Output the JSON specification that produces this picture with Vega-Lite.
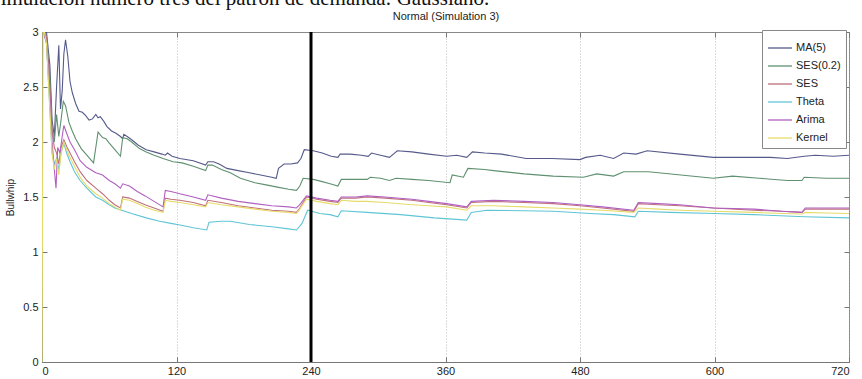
{
  "$schema": "https://vega.github.io/schema/vega-lite/v6.json",
  "width": 807,
  "height": 330,
  "autosize": {"type": "none"},
  "padding": {"left": 42, "top": 32, "right": 13, "bottom": 17},
  "background": "white",
  "title": {
    "text": "Simulación número tres del patrón de demanda: Gaussiano.",
    "font": "Liberation Serif",
    "fontSize": 21,
    "fontWeight": "normal",
    "color": "#111",
    "anchor": "start",
    "frame": "group",
    "dx": -53,
    "dy": 15,
    "offset": 0,
    "baseline": "alphabetic"
  },
  "config": {
    "view": {"stroke": "#888", "strokeWidth": 1},
    "axis": {
      "labelFont": "Liberation Sans Narrow, Liberation Sans, Arial",
      "titleFont": "Liberation Sans Narrow, Liberation Sans, Arial",
      "labelFontSize": 11,
      "labelColor": "#222",
      "titleColor": "#222",
      "titleFontWeight": "normal",
      "tickColor": "#777",
      "domainColor": "#777",
      "tickSize": -5
    },
    "legend": {
      "labelFont": "Liberation Sans Narrow, Liberation Sans, Arial"
    }
  },
  "datasets": {
    "d": [
      {"s":"MA(5)","x":0,"v":3.05},{"s":"MA(5)","x":4,"v":3.0},{"s":"MA(5)","x":7,"v":2.7},{"s":"MA(5)","x":9,"v":2.2},{"s":"MA(5)","x":11,"v":2.05},{"s":"MA(5)","x":13,"v":2.5},{"s":"MA(5)","x":15,"v":2.88},{"s":"MA(5)","x":16.5,"v":2.3},{"s":"MA(5)","x":18,"v":2.46},{"s":"MA(5)","x":19.5,"v":2.8},{"s":"MA(5)","x":21,"v":2.93},{"s":"MA(5)","x":23,"v":2.78},{"s":"MA(5)","x":25,"v":2.55},{"s":"MA(5)","x":27,"v":2.45},{"s":"MA(5)","x":30,"v":2.35},{"s":"MA(5)","x":33,"v":2.28},{"s":"MA(5)","x":36,"v":2.27},{"s":"MA(5)","x":39,"v":2.24},{"s":"MA(5)","x":42,"v":2.2},{"s":"MA(5)","x":45,"v":2.21},{"s":"MA(5)","x":48,"v":2.25},{"s":"MA(5)","x":50,"v":2.22},{"s":"MA(5)","x":52,"v":2.23},{"s":"MA(5)","x":55,"v":2.19},{"s":"MA(5)","x":58,"v":2.14},{"s":"MA(5)","x":62,"v":2.1},{"s":"MA(5)","x":66,"v":2.08},{"s":"MA(5)","x":70,"v":2.05},{"s":"MA(5)","x":72,"v":2.03},{"s":"MA(5)","x":73,"v":2.07},{"s":"MA(5)","x":76,"v":2.05},{"s":"MA(5)","x":80,"v":2.02},{"s":"MA(5)","x":86,"v":1.97},{"s":"MA(5)","x":93,"v":1.93},{"s":"MA(5)","x":100,"v":1.91},{"s":"MA(5)","x":107,"v":1.89},{"s":"MA(5)","x":110,"v":1.88},{"s":"MA(5)","x":112,"v":1.9},{"s":"MA(5)","x":116,"v":1.87},{"s":"MA(5)","x":123,"v":1.85},{"s":"MA(5)","x":135,"v":1.83},{"s":"MA(5)","x":146,"v":1.79},{"s":"MA(5)","x":148,"v":1.82},{"s":"MA(5)","x":153,"v":1.82},{"s":"MA(5)","x":158,"v":1.8},{"s":"MA(5)","x":165,"v":1.76},{"s":"MA(5)","x":175,"v":1.74},{"s":"MA(5)","x":185,"v":1.72},{"s":"MA(5)","x":195,"v":1.7},{"s":"MA(5)","x":205,"v":1.68},{"s":"MA(5)","x":209,"v":1.67},{"s":"MA(5)","x":211,"v":1.76},{"s":"MA(5)","x":216,"v":1.8},{"s":"MA(5)","x":222,"v":1.8},{"s":"MA(5)","x":228,"v":1.81},{"s":"MA(5)","x":231,"v":1.85},{"s":"MA(5)","x":234,"v":1.93},{"s":"MA(5)","x":242,"v":1.92},{"s":"MA(5)","x":250,"v":1.9},{"s":"MA(5)","x":258,"v":1.87},{"s":"MA(5)","x":264,"v":1.86},{"s":"MA(5)","x":266,"v":1.89},{"s":"MA(5)","x":275,"v":1.89},{"s":"MA(5)","x":285,"v":1.88},{"s":"MA(5)","x":291,"v":1.87},{"s":"MA(5)","x":294,"v":1.9},{"s":"MA(5)","x":302,"v":1.88},{"s":"MA(5)","x":310,"v":1.86},{"s":"MA(5)","x":317,"v":1.92},{"s":"MA(5)","x":330,"v":1.91},{"s":"MA(5)","x":345,"v":1.89},{"s":"MA(5)","x":361,"v":1.87},{"s":"MA(5)","x":370,"v":1.88},{"s":"MA(5)","x":379,"v":1.86},{"s":"MA(5)","x":384,"v":1.91},{"s":"MA(5)","x":395,"v":1.9},{"s":"MA(5)","x":410,"v":1.89},{"s":"MA(5)","x":432,"v":1.85},{"s":"MA(5)","x":455,"v":1.85},{"s":"MA(5)","x":480,"v":1.84},{"s":"MA(5)","x":485,"v":1.86},{"s":"MA(5)","x":498,"v":1.88},{"s":"MA(5)","x":510,"v":1.85},{"s":"MA(5)","x":519,"v":1.9},{"s":"MA(5)","x":530,"v":1.89},{"s":"MA(5)","x":540,"v":1.92},{"s":"MA(5)","x":569,"v":1.89},{"s":"MA(5)","x":599,"v":1.86},{"s":"MA(5)","x":632,"v":1.86},{"s":"MA(5)","x":650,"v":1.86},{"s":"MA(5)","x":665,"v":1.85},{"s":"MA(5)","x":680,"v":1.87},{"s":"MA(5)","x":690,"v":1.88},{"s":"MA(5)","x":706,"v":1.87},{"s":"MA(5)","x":720,"v":1.88},

      {"s":"SES(0.2)","x":0,"v":3.05},{"s":"SES(0.2)","x":4,"v":2.95},{"s":"SES(0.2)","x":7,"v":2.6},{"s":"SES(0.2)","x":9,"v":2.1},{"s":"SES(0.2)","x":11,"v":2.0},{"s":"SES(0.2)","x":13,"v":2.25},{"s":"SES(0.2)","x":15,"v":2.05},{"s":"SES(0.2)","x":17,"v":2.2},{"s":"SES(0.2)","x":19,"v":2.37},{"s":"SES(0.2)","x":21,"v":2.33},{"s":"SES(0.2)","x":24,"v":2.18},{"s":"SES(0.2)","x":27,"v":2.1},{"s":"SES(0.2)","x":30,"v":2.03},{"s":"SES(0.2)","x":35,"v":1.94},{"s":"SES(0.2)","x":40,"v":1.88},{"s":"SES(0.2)","x":46,"v":1.81},{"s":"SES(0.2)","x":48,"v":1.95},{"s":"SES(0.2)","x":50,"v":2.09},{"s":"SES(0.2)","x":54,"v":2.04},{"s":"SES(0.2)","x":57,"v":2.03},{"s":"SES(0.2)","x":60,"v":1.99},{"s":"SES(0.2)","x":65,"v":1.93},{"s":"SES(0.2)","x":70,"v":1.87},{"s":"SES(0.2)","x":72,"v":2.04},{"s":"SES(0.2)","x":76,"v":2.03},{"s":"SES(0.2)","x":80,"v":2.0},{"s":"SES(0.2)","x":87,"v":1.94},{"s":"SES(0.2)","x":93,"v":1.91},{"s":"SES(0.2)","x":100,"v":1.88},{"s":"SES(0.2)","x":108,"v":1.85},{"s":"SES(0.2)","x":117,"v":1.82},{"s":"SES(0.2)","x":125,"v":1.81},{"s":"SES(0.2)","x":135,"v":1.78},{"s":"SES(0.2)","x":146,"v":1.74},{"s":"SES(0.2)","x":148,"v":1.79},{"s":"SES(0.2)","x":152,"v":1.79},{"s":"SES(0.2)","x":160,"v":1.75},{"s":"SES(0.2)","x":168,"v":1.72},{"s":"SES(0.2)","x":177,"v":1.67},{"s":"SES(0.2)","x":190,"v":1.63},{"s":"SES(0.2)","x":200,"v":1.61},{"s":"SES(0.2)","x":210,"v":1.59},{"s":"SES(0.2)","x":220,"v":1.57},{"s":"SES(0.2)","x":227,"v":1.56},{"s":"SES(0.2)","x":230,"v":1.6},{"s":"SES(0.2)","x":233,"v":1.67},{"s":"SES(0.2)","x":242,"v":1.66},{"s":"SES(0.2)","x":250,"v":1.64},{"s":"SES(0.2)","x":257,"v":1.62},{"s":"SES(0.2)","x":264,"v":1.6},{"s":"SES(0.2)","x":267,"v":1.66},{"s":"SES(0.2)","x":280,"v":1.66},{"s":"SES(0.2)","x":290,"v":1.66},{"s":"SES(0.2)","x":293,"v":1.68},{"s":"SES(0.2)","x":302,"v":1.67},{"s":"SES(0.2)","x":310,"v":1.65},{"s":"SES(0.2)","x":316,"v":1.67},{"s":"SES(0.2)","x":330,"v":1.66},{"s":"SES(0.2)","x":345,"v":1.65},{"s":"SES(0.2)","x":364,"v":1.63},{"s":"SES(0.2)","x":366,"v":1.7},{"s":"SES(0.2)","x":376,"v":1.68},{"s":"SES(0.2)","x":380,"v":1.76},{"s":"SES(0.2)","x":395,"v":1.75},{"s":"SES(0.2)","x":403,"v":1.74},{"s":"SES(0.2)","x":430,"v":1.71},{"s":"SES(0.2)","x":456,"v":1.69},{"s":"SES(0.2)","x":483,"v":1.68},{"s":"SES(0.2)","x":495,"v":1.71},{"s":"SES(0.2)","x":510,"v":1.69},{"s":"SES(0.2)","x":519,"v":1.73},{"s":"SES(0.2)","x":541,"v":1.73},{"s":"SES(0.2)","x":570,"v":1.7},{"s":"SES(0.2)","x":599,"v":1.67},{"s":"SES(0.2)","x":616,"v":1.69},{"s":"SES(0.2)","x":640,"v":1.67},{"s":"SES(0.2)","x":665,"v":1.65},{"s":"SES(0.2)","x":678,"v":1.65},{"s":"SES(0.2)","x":680,"v":1.68},{"s":"SES(0.2)","x":700,"v":1.67},{"s":"SES(0.2)","x":720,"v":1.67},

      {"s":"SES","x":0,"v":3.05},{"s":"SES","x":4,"v":2.95},{"s":"SES","x":7,"v":2.5},{"s":"SES","x":9,"v":2.1},{"s":"SES","x":11,"v":1.95},{"s":"SES","x":13,"v":1.9},{"s":"SES","x":15,"v":1.8},{"s":"SES","x":17,"v":1.95},{"s":"SES","x":19.5,"v":2.02},{"s":"SES","x":22,"v":1.96},{"s":"SES","x":25,"v":1.9},{"s":"SES","x":29,"v":1.82},{"s":"SES","x":34,"v":1.73},{"s":"SES","x":40,"v":1.65},{"s":"SES","x":48,"v":1.58},{"s":"SES","x":54,"v":1.53},{"s":"SES","x":60,"v":1.47},{"s":"SES","x":65,"v":1.43},{"s":"SES","x":70,"v":1.4},{"s":"SES","x":72,"v":1.5},{"s":"SES","x":78,"v":1.49},{"s":"SES","x":85,"v":1.46},{"s":"SES","x":92,"v":1.43},{"s":"SES","x":100,"v":1.4},{"s":"SES","x":108,"v":1.37},{"s":"SES","x":110,"v":1.49},{"s":"SES","x":115,"v":1.48},{"s":"SES","x":123,"v":1.47},{"s":"SES","x":135,"v":1.45},{"s":"SES","x":146,"v":1.42},{"s":"SES","x":148,"v":1.47},{"s":"SES","x":160,"v":1.45},{"s":"SES","x":175,"v":1.42},{"s":"SES","x":190,"v":1.4},{"s":"SES","x":205,"v":1.38},{"s":"SES","x":220,"v":1.37},{"s":"SES","x":227,"v":1.36},{"s":"SES","x":230,"v":1.4},{"s":"SES","x":236,"v":1.5},{"s":"SES","x":245,"v":1.48},{"s":"SES","x":257,"v":1.46},{"s":"SES","x":264,"v":1.45},{"s":"SES","x":267,"v":1.49},{"s":"SES","x":280,"v":1.49},{"s":"SES","x":290,"v":1.5},{"s":"SES","x":306,"v":1.49},{"s":"SES","x":330,"v":1.47},{"s":"SES","x":345,"v":1.45},{"s":"SES","x":361,"v":1.43},{"s":"SES","x":379,"v":1.4},{"s":"SES","x":383,"v":1.45},{"s":"SES","x":403,"v":1.46},{"s":"SES","x":430,"v":1.45},{"s":"SES","x":456,"v":1.44},{"s":"SES","x":480,"v":1.42},{"s":"SES","x":500,"v":1.4},{"s":"SES","x":528,"v":1.37},{"s":"SES","x":532,"v":1.44},{"s":"SES","x":550,"v":1.43},{"s":"SES","x":569,"v":1.42},{"s":"SES","x":599,"v":1.4},{"s":"SES","x":635,"v":1.38},{"s":"SES","x":660,"v":1.37},{"s":"SES","x":678,"v":1.36},{"s":"SES","x":681,"v":1.39},{"s":"SES","x":700,"v":1.39},{"s":"SES","x":720,"v":1.39},

      {"s":"Theta","x":0,"v":3.05},{"s":"Theta","x":4,"v":2.9},{"s":"Theta","x":7,"v":2.3},{"s":"Theta","x":9,"v":1.9},{"s":"Theta","x":11,"v":1.8},{"s":"Theta","x":13,"v":1.85},{"s":"Theta","x":15,"v":1.75},{"s":"Theta","x":17,"v":1.9},{"s":"Theta","x":19.5,"v":1.99},{"s":"Theta","x":22,"v":1.9},{"s":"Theta","x":25,"v":1.82},{"s":"Theta","x":29,"v":1.73},{"s":"Theta","x":34,"v":1.65},{"s":"Theta","x":40,"v":1.58},{"s":"Theta","x":48,"v":1.5},{"s":"Theta","x":54,"v":1.47},{"s":"Theta","x":60,"v":1.43},{"s":"Theta","x":65,"v":1.4},{"s":"Theta","x":71,"v":1.38},{"s":"Theta","x":80,"v":1.35},{"s":"Theta","x":93,"v":1.31},{"s":"Theta","x":105,"v":1.28},{"s":"Theta","x":115,"v":1.26},{"s":"Theta","x":123,"v":1.245},{"s":"Theta","x":135,"v":1.22},{"s":"Theta","x":147,"v":1.2},{"s":"Theta","x":149,"v":1.27},{"s":"Theta","x":160,"v":1.28},{"s":"Theta","x":168,"v":1.28},{"s":"Theta","x":185,"v":1.25},{"s":"Theta","x":205,"v":1.23},{"s":"Theta","x":220,"v":1.21},{"s":"Theta","x":227,"v":1.2},{"s":"Theta","x":232,"v":1.26},{"s":"Theta","x":237,"v":1.38},{"s":"Theta","x":248,"v":1.35},{"s":"Theta","x":257,"v":1.34},{"s":"Theta","x":264,"v":1.32},{"s":"Theta","x":267,"v":1.375},{"s":"Theta","x":290,"v":1.36},{"s":"Theta","x":320,"v":1.34},{"s":"Theta","x":350,"v":1.31},{"s":"Theta","x":379,"v":1.29},{"s":"Theta","x":383,"v":1.36},{"s":"Theta","x":397,"v":1.38},{"s":"Theta","x":430,"v":1.375},{"s":"Theta","x":456,"v":1.37},{"s":"Theta","x":489,"v":1.35},{"s":"Theta","x":510,"v":1.34},{"s":"Theta","x":529,"v":1.32},{"s":"Theta","x":532,"v":1.37},{"s":"Theta","x":560,"v":1.36},{"s":"Theta","x":600,"v":1.35},{"s":"Theta","x":635,"v":1.34},{"s":"Theta","x":680,"v":1.32},{"s":"Theta","x":720,"v":1.31},

      {"s":"Arima","x":0,"v":3.05},{"s":"Arima","x":4,"v":2.9},{"s":"Arima","x":7,"v":2.4},{"s":"Arima","x":9,"v":2.0},{"s":"Arima","x":11,"v":1.75},{"s":"Arima","x":12.5,"v":1.58},{"s":"Arima","x":14,"v":1.95},{"s":"Arima","x":16,"v":1.9},{"s":"Arima","x":18,"v":2.05},{"s":"Arima","x":19.5,"v":2.15},{"s":"Arima","x":22,"v":2.08},{"s":"Arima","x":25,"v":2.0},{"s":"Arima","x":29,"v":1.93},{"s":"Arima","x":34,"v":1.83},{"s":"Arima","x":40,"v":1.77},{"s":"Arima","x":48,"v":1.72},{"s":"Arima","x":54,"v":1.7},{"s":"Arima","x":60,"v":1.65},{"s":"Arima","x":65,"v":1.62},{"s":"Arima","x":70,"v":1.58},{"s":"Arima","x":72,"v":1.62},{"s":"Arima","x":78,"v":1.6},{"s":"Arima","x":85,"v":1.55},{"s":"Arima","x":92,"v":1.51},{"s":"Arima","x":100,"v":1.46},{"s":"Arima","x":108,"v":1.41},{"s":"Arima","x":110,"v":1.56},{"s":"Arima","x":115,"v":1.55},{"s":"Arima","x":123,"v":1.53},{"s":"Arima","x":135,"v":1.5},{"s":"Arima","x":146,"v":1.47},{"s":"Arima","x":148,"v":1.52},{"s":"Arima","x":160,"v":1.49},{"s":"Arima","x":175,"v":1.46},{"s":"Arima","x":190,"v":1.44},{"s":"Arima","x":205,"v":1.42},{"s":"Arima","x":220,"v":1.41},{"s":"Arima","x":227,"v":1.4},{"s":"Arima","x":230,"v":1.43},{"s":"Arima","x":236,"v":1.51},{"s":"Arima","x":245,"v":1.49},{"s":"Arima","x":257,"v":1.47},{"s":"Arima","x":264,"v":1.46},{"s":"Arima","x":267,"v":1.5},{"s":"Arima","x":280,"v":1.5},{"s":"Arima","x":290,"v":1.51},{"s":"Arima","x":306,"v":1.5},{"s":"Arima","x":330,"v":1.48},{"s":"Arima","x":345,"v":1.46},{"s":"Arima","x":361,"v":1.44},{"s":"Arima","x":379,"v":1.41},{"s":"Arima","x":383,"v":1.46},{"s":"Arima","x":403,"v":1.47},{"s":"Arima","x":430,"v":1.46},{"s":"Arima","x":456,"v":1.45},{"s":"Arima","x":480,"v":1.43},{"s":"Arima","x":500,"v":1.41},{"s":"Arima","x":528,"v":1.38},{"s":"Arima","x":532,"v":1.45},{"s":"Arima","x":550,"v":1.44},{"s":"Arima","x":569,"v":1.43},{"s":"Arima","x":599,"v":1.4},{"s":"Arima","x":635,"v":1.39},{"s":"Arima","x":660,"v":1.37},{"s":"Arima","x":678,"v":1.36},{"s":"Arima","x":681,"v":1.4},{"s":"Arima","x":700,"v":1.4},{"s":"Arima","x":720,"v":1.4},

      {"s":"Kernel","x":0,"v":0},{"s":"Kernel","x":1,"v":3.05},{"s":"Kernel","x":4,"v":2.9},{"s":"Kernel","x":7,"v":2.3},{"s":"Kernel","x":9,"v":1.9},{"s":"Kernel","x":11,"v":1.75},{"s":"Kernel","x":13,"v":1.85},{"s":"Kernel","x":15,"v":1.7},{"s":"Kernel","x":17,"v":1.9},{"s":"Kernel","x":19.5,"v":2.0},{"s":"Kernel","x":22,"v":1.93},{"s":"Kernel","x":25,"v":1.86},{"s":"Kernel","x":29,"v":1.78},{"s":"Kernel","x":34,"v":1.68},{"s":"Kernel","x":40,"v":1.6},{"s":"Kernel","x":48,"v":1.53},{"s":"Kernel","x":54,"v":1.49},{"s":"Kernel","x":60,"v":1.44},{"s":"Kernel","x":65,"v":1.41},{"s":"Kernel","x":70,"v":1.38},{"s":"Kernel","x":72,"v":1.48},{"s":"Kernel","x":78,"v":1.47},{"s":"Kernel","x":85,"v":1.44},{"s":"Kernel","x":92,"v":1.41},{"s":"Kernel","x":100,"v":1.38},{"s":"Kernel","x":108,"v":1.36},{"s":"Kernel","x":110,"v":1.47},{"s":"Kernel","x":115,"v":1.46},{"s":"Kernel","x":123,"v":1.45},{"s":"Kernel","x":135,"v":1.43},{"s":"Kernel","x":146,"v":1.41},{"s":"Kernel","x":148,"v":1.45},{"s":"Kernel","x":160,"v":1.43},{"s":"Kernel","x":175,"v":1.41},{"s":"Kernel","x":190,"v":1.39},{"s":"Kernel","x":205,"v":1.37},{"s":"Kernel","x":220,"v":1.36},{"s":"Kernel","x":227,"v":1.35},{"s":"Kernel","x":230,"v":1.39},{"s":"Kernel","x":236,"v":1.48},{"s":"Kernel","x":245,"v":1.46},{"s":"Kernel","x":257,"v":1.44},{"s":"Kernel","x":264,"v":1.43},{"s":"Kernel","x":267,"v":1.47},{"s":"Kernel","x":280,"v":1.46},{"s":"Kernel","x":290,"v":1.46},{"s":"Kernel","x":306,"v":1.45},{"s":"Kernel","x":330,"v":1.43},{"s":"Kernel","x":345,"v":1.42},{"s":"Kernel","x":361,"v":1.41},{"s":"Kernel","x":379,"v":1.38},{"s":"Kernel","x":383,"v":1.42},{"s":"Kernel","x":403,"v":1.42},{"s":"Kernel","x":430,"v":1.41},{"s":"Kernel","x":456,"v":1.4},{"s":"Kernel","x":480,"v":1.39},{"s":"Kernel","x":500,"v":1.38},{"s":"Kernel","x":528,"v":1.36},{"s":"Kernel","x":532,"v":1.4},{"s":"Kernel","x":550,"v":1.39},{"s":"Kernel","x":569,"v":1.38},{"s":"Kernel","x":599,"v":1.37},{"s":"Kernel","x":635,"v":1.36},{"s":"Kernel","x":660,"v":1.35},{"s":"Kernel","x":678,"v":1.345},{"s":"Kernel","x":681,"v":1.36},{"s":"Kernel","x":700,"v":1.355},{"s":"Kernel","x":720,"v":1.35}
    ],
    "marker": [{"x": 240}]
  },
  "layer": [
    {
      "data": {"name": "d"},
      "mark": {"type": "line", "clip": true, "strokeWidth": 1.1, "interpolate": "linear"},
      "encoding": {
        "x": {
          "field": "x", "type": "quantitative",
          "scale": {"domain": [0, 720], "nice": false, "zero": false},
          "axis": {
            "orient": "bottom", "title": null,
            "values": [0, 120, 240, 360, 480, 600, 720],
            "labelExpr": "'' + datum.value",
            "labelPadding": 8,
            "grid": true, "gridDash": [1, 2], "gridColor": "#aaa", "gridWidth": 0.8
          }
        },
        "y": {
          "field": "v", "type": "quantitative",
          "scale": {"domain": [0, 3], "nice": false},
          "axis": {
            "orient": "left", "title": "Bullwhip",
            "titleFontSize": 10, "titlePadding": 7,
            "values": [0, 0.5, 1, 1.5, 2, 2.5, 3],
            "labelExpr": "'' + datum.value",
            "labelPadding": 9,
            "grid": false
          }
        },
        "color": {
          "field": "s", "type": "nominal",
          "scale": {
            "domain": ["MA(5)", "SES(0.2)", "SES", "Theta", "Arima", "Kernel"],
            "range": ["#555a8a", "#5f9070", "#c0707a", "#5fc5d5", "#b060c0", "#e6dc6a"]
          },
          "legend": {
            "orient": "none", "legendX": 720, "legendY": -2,
            "title": null,
            "strokeColor": "#888", "fillColor": "white",
            "padding": 5,
            "symbolType": "stroke", "symbolSize": 576, "symbolStrokeWidth": 1.3,
            "labelFontSize": 11, "labelColor": "#222", "labelOffset": 3,
            "rowPadding": -6
          }
        },
        "order": {"field": "x", "type": "quantitative"}
      }
    },
    {
      "data": {"name": "marker"},
      "mark": {"type": "rule", "color": "#000", "strokeWidth": 3},
      "encoding": {
        "x": {"field": "x", "type": "quantitative", "axis": null}
      }
    },
    {
      "data": {"name": "d"},
      "mark": {"type": "point", "opacity": 0, "clip": true},
      "encoding": {
        "x": {
          "field": "x", "type": "quantitative",
          "axis": {
            "orient": "top", "labels": false, "domain": false, "grid": false,
            "values": [0, 120, 240, 360, 480, 600, 720],
            "title": "Normal (Simulation 3)", "titleFontSize": 11, "titlePadding": 10
          }
        },
        "y": {
          "field": "v", "type": "quantitative",
          "axis": {
            "orient": "right", "labels": false, "domain": false, "grid": false,
            "values": [0, 0.5, 1, 1.5, 2, 2.5, 3], "title": null
          }
        }
      }
    }
  ],
  "resolve": {"axis": {"x": "independent", "y": "independent"}}
}
